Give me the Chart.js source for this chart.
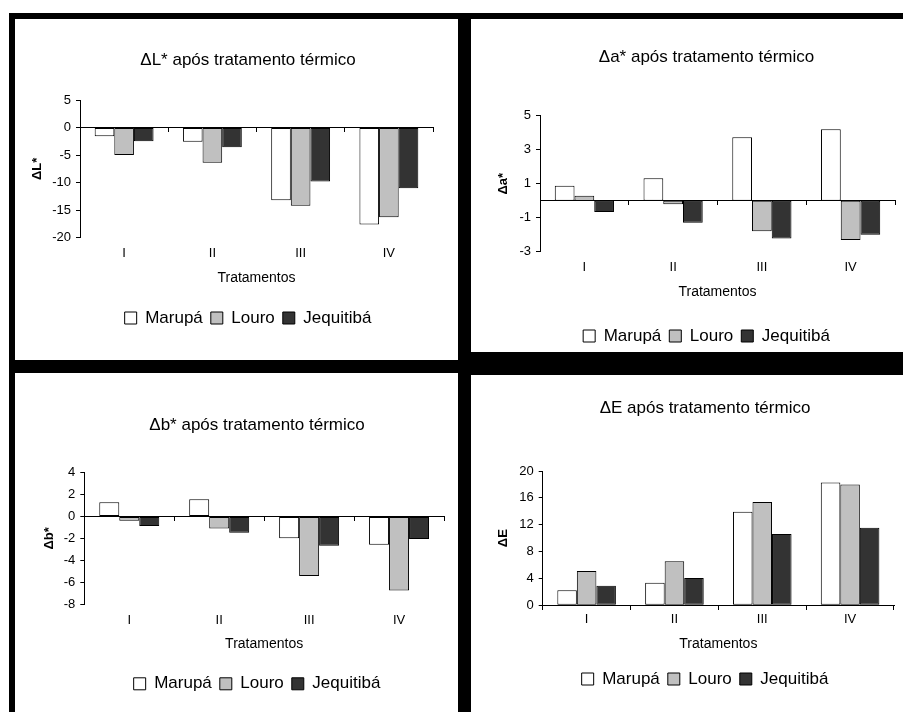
<!DOCTYPE html>
<html>
<head>
<meta charset="utf-8">
<script src="https://cdn.jsdelivr.net/npm/chart.js@4.4.1/dist/chart.umd.min.js"></script>
<style>
  body { margin: 0; background: #fff; }
  #page { position: relative; width: 903px; height: 712px; overflow: hidden; background: #fff; }
  canvas { position: absolute; z-index: 1; }
  .band { position: absolute; background: #000; z-index: 2; }
</style>
</head>
<body>
<div id="page">
  <canvas id="graficoL" width="443" height="341" style="left:15px; top:19px"></canvas>
  <canvas id="graficoA" width="432" height="345" style="left:471px; top:19px"></canvas>
  <canvas id="graficoB" width="443" height="339" style="left:15px; top:373px"></canvas>
  <canvas id="graficoE" width="432" height="337" style="left:471px; top:375px"></canvas>

  <div class="band" style="left:9px; top:13px; width:894px; height:6px"></div>
  <div class="band" style="left:9px; top:13px; width:6px; height:699px"></div>
  <div class="band" style="left:458px; top:13px; width:13px; height:699px"></div>
  <div class="band" style="left:9px; top:360px; width:449px; height:13px"></div>
  <div class="band" style="left:458px; top:352px; width:445px; height:23px"></div>
</div>

<script>
// Dados
const tratamentos = ['I', 'II', 'III', 'IV'];
const especies = ['Marupá', 'Louro', 'Jequitibá'];
const coresEspecies = ['#ffffff', '#c0c0c0', '#333333'];

const dL_marupa = [-1.6, -2.6, -13.2, -17.6];
const dL_louro = [-5.0, -6.4, -14.2, -16.3];
const dL_jequitiba = [-2.5, -3.6, -9.8, -11.0];
const ticksL = [-20, -15, -10, -5, 0, 5];

const da_marupa = [0.88, 1.32, 3.73, 4.2];
const da_louro = [0.29, -0.21, -1.8, -2.31];
const da_jequitiba = [-0.66, -1.29, -2.23, -2.0];
const ticksA = [-3, -1, 1, 3, 5];

const db_marupa = [1.31, 1.58, -2.0, -2.58];
const db_louro = [-0.4, -1.1, -5.45, -6.76];
const db_jequitiba = [-0.88, -1.49, -2.68, -2.07];
const ticksB = [-8, -6, -4, -2, 0, 2, 4];

const dE_marupa = [2.24, 3.37, 13.95, 18.27];
const dE_louro = [5.1, 6.55, 15.4, 18.0];
const dE_jequitiba = [2.93, 4.07, 10.6, 11.56];
const ticksE = [0, 4, 8, 12, 16, 20];

Chart.defaults.font.family = "'Liberation Sans', Arial, sans-serif";
Chart.defaults.color = '#000';

const TAM_TITULO = 17, TAM_LEGENDA = 17, TAM_TICK = 13, TAM_EIXO = 14, TAM_EIXO_Y = 13;
const PAD_LEGENDA = 8;
const ESPACO_ROTULOS_Y = 45;

// monta um gráfico; "caixa" e "area" em coordenadas da página
function criarGrafico(id, titulo, tituloY, series, ticks, caixa, area, pos) {
  const cl = area.l - caixa.x, cr = area.r - caixa.x;
  const ct = area.t - caixa.y, cb = area.b - caixa.y;
  const cx = pos.centro - caixa.x;

  // eixo y à esquerda largo o bastante para os rótulos,
  // e um eixo vazio à direita para centralizar título e legenda
  const padL = cl - ESPACO_ROTULOS_Y;
  const larguraY = ESPACO_ROTULOS_Y;
  const direitaCaixa = 2 * cx - padL;
  const padR = caixa.w - direitaCaixa;
  const larguraDir = direitaCaixa - cr;

  const lhTitulo = TAM_TITULO * 1.2;
  const tituloTop = pos.titulo - caixa.y - lhTitulo / 2;
  const tituloBottom = ct - tituloTop - lhTitulo;

  const legendaBase = pos.legenda - caixa.y + TAM_LEGENDA / 2 + 10;
  const padB = caixa.h - legendaBase;
  const alturaLegenda = TAM_LEGENDA + PAD_LEGENDA + 10;
  const baseX = legendaBase - alturaLegenda;
  const alturaX = baseX - cb;
  const padTituloX = baseX - (pos.tituloX - caixa.y) - TAM_EIXO * 1.2 / 2;
  const padTickX = (pos.rotulos - caixa.y) - cb - TAM_TICK * 1.2 / 2;
  const padTituloY = (pos.tituloY - caixa.x) - padL - TAM_EIXO_Y * 1.2 / 2;

  const datasets = especies.map((nome, i) => ({
    label: nome,
    data: series[i],
    backgroundColor: coresEspecies[i],
    borderColor: '#000',
    borderWidth: 1,
    borderSkipped: false,
    barPercentage: 1,
    categoryPercentage: 0.667
  }));

  return new Chart(document.getElementById(id), {
    type: 'bar',
    data: { labels: tratamentos, datasets },
    options: {
      responsive: false,
      animation: false,
      devicePixelRatio: 1,
      layout: { padding: { left: padL, right: padR, top: 0, bottom: padB } },
      plugins: {
        title: {
          display: true,
          text: titulo,
          color: '#000',
          font: { size: TAM_TITULO, weight: 'normal' },
          padding: { top: tituloTop, bottom: tituloBottom }
        },
        legend: {
          position: 'bottom',
          labels: {
            boxWidth: 12,
            boxHeight: 12,
            padding: PAD_LEGENDA,
            color: '#000',
            font: { size: TAM_LEGENDA }
          }
        },
        tooltip: { enabled: false }
      },
      scales: {
        x: {
          type: 'category',
          offset: true,
          grid: { display: false, drawTicks: false },
          border: { display: false },
          ticks: { color: '#000', font: { size: TAM_TICK }, padding: padTickX, maxRotation: 0 },
          title: {
            display: true,
            text: 'Tratamentos',
            color: '#000',
            font: { size: TAM_EIXO },
            padding: { top: 0, bottom: padTituloX }
          },
          afterFit: (s) => { s.height = alturaX; }
        },
        x2: {
          type: 'category',
          axis: 'x',
          position: { y: 0 },
          offset: true,
          grid: { offset: true, drawOnChartArea: false, drawTicks: true, tickLength: 4, color: '#000' },
          border: { display: true, color: '#000', width: 1 },
          ticks: { display: false }
        },
        y: {
          min: ticks[0],
          max: ticks[ticks.length - 1],
          ticks: { stepSize: ticks[1] - ticks[0], color: '#000', font: { size: TAM_TICK }, padding: 5 },
          grid: { drawOnChartArea: false, drawTicks: true, tickLength: 4, color: '#000' },
          border: { display: true, color: '#000', width: 1 },
          title: {
            display: true,
            text: tituloY,
            color: '#000',
            font: { size: TAM_EIXO_Y, weight: 'bold' },
            padding: { top: padTituloY, bottom: 0 }
          },
          afterFit: (s) => { s.width = larguraY; }
        },
        yDir: {
          type: 'linear',
          axis: 'y',
          position: 'right',
          grid: { display: false, drawTicks: false },
          border: { display: false },
          ticks: { display: false },
          afterFit: (s) => { s.width = larguraDir; }
        }
      }
    }
  });
}

criarGrafico('graficoL', 'ΔL* após tratamento térmico', 'ΔL*',
  [dL_marupa, dL_louro, dL_jequitiba], ticksL,
  { x: 15, y: 19, w: 443, h: 341 },
  { l: 80, r: 433, t: 100, b: 237.7 },
  { centro: 248, titulo: 60.5, legenda: 318, rotulos: 253.8, tituloX: 278.3, tituloY: 37 });

criarGrafico('graficoA', 'Δa* após tratamento térmico', 'Δa*',
  [da_marupa, da_louro, da_jequitiba], ticksA,
  { x: 471, y: 19, w: 432, h: 345 },
  { l: 540, r: 895, t: 115.7, b: 251.7 },
  { centro: 706.5, titulo: 57.5, legenda: 336, rotulos: 267.5, tituloX: 292.3, tituloY: 503 });

criarGrafico('graficoB', 'Δb* após tratamento térmico', 'Δb*',
  [db_marupa, db_louro, db_jequitiba], ticksB,
  { x: 15, y: 373, w: 443, h: 339 },
  { l: 84.3, r: 444, t: 472.7, b: 604 },
  { centro: 257, titulo: 425.8, legenda: 683.8, rotulos: 620, tituloX: 643.7, tituloY: 49 });

criarGrafico('graficoE', 'ΔE após tratamento térmico', 'ΔE',
  [dE_marupa, dE_louro, dE_jequitiba], ticksE,
  { x: 471, y: 375, w: 432, h: 337 },
  { l: 542.7, r: 894, t: 471, b: 605.3 },
  { centro: 705, titulo: 408, legenda: 679, rotulos: 619.5, tituloX: 644, tituloY: 503 });
</script>
</body>
</html>
